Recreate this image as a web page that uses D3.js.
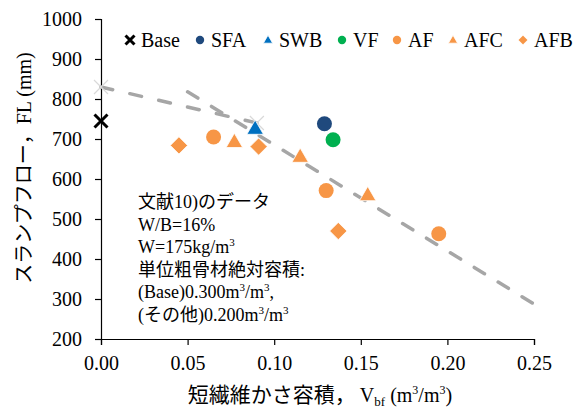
<!DOCTYPE html>
<html>
<head>
<meta charset="utf-8">
<script src="https://cdn.jsdelivr.net/npm/d3@7"></script>
<style>
  body { margin: 0; background: #fff; }
  svg text { font-family: 'Liberation Serif', 'Noto Sans CJK JP', serif !important; fill: #000; }
</style>
</head>
<body>
<svg id="chart" width="575" height="410"></svg>
<script>
// Slump flow vs. bulk volume of short fibres
const xTicks = [0, 0.05, 0.10, 0.15, 0.20, 0.25];
const yTicks = [200, 300, 400, 500, 600, 700, 800, 900, 1000];

const seriesNames = ["Base", "SFA", "SWB", "VF", "AF", "AFC", "AFB"];
const seriesColors = ["#000000", "#1F497D", "#0070C0", "#00B050", "#F79646", "#F79646", "#F79646"];
const seriesShapes = ["cross", "circle", "triangle", "circle", "circle", "triangle", "diamond"];

const baseX = [0.000];
const baseY = [745];
const sfaX = [0.129];
const sfaY = [738];
const swbX = [0.089];
const swbY = [726];
const vfX = [0.134];
const vfY = [698];
const afX = [0.065, 0.130, 0.195];
const afY = [705, 571, 463];
const afcX = [0.077, 0.115, 0.154];
const afcY = [693, 656, 560];
const afbX = [0.045, 0.091, 0.137];
const afbY = [684, 681, 470];

// trend lines
const trendAX = [0.000, 0.090];
const trendAY = [830, 740];
const trendBX = [0.050, 0.249];
const trendBY = [818, 290];

const seriesX = [baseX, sfaX, swbX, vfX, afX, afcX, afbX];
const seriesY = [baseY, sfaY, swbY, vfY, afY, afcY, afbY];

const FONT = "'Liberation Serif', 'Noto Sans CJK JP', serif";
const svg = d3.select("#chart");
const x = d3.scaleLinear().domain([0, 0.25]).range([101, 534]);
const y = d3.scaleLinear().domain([200, 1000]).range([339, 19]);

// axes
const xAxis = svg.append("g").attr("transform", "translate(0,339)")
  .call(d3.axisBottom(x).tickValues(xTicks).tickSize(6).tickPadding(6).tickFormat(d3.format(".2f")));
const yAxis = svg.append("g").attr("transform", "translate(101,0)")
  .call(d3.axisLeft(y).tickValues(yTicks).tickSize(6).tickPadding(13).tickFormat(d3.format("d")));
[xAxis, yAxis].forEach(a => {
  a.attr("font-family", null);
  a.selectAll("path").attr("stroke", "#000").attr("stroke-width", 1.2);
  a.selectAll("line").attr("stroke", "#000").attr("stroke-width", 1.2);
  a.selectAll("text").attr("font-size", 20).style("font-family", FONT).attr("fill", "#000");
});
xAxis.selectAll("text").attr("dy", "0.95em");

// dashed trend lines; the gap is stretched slightly so both ends fall on a dash
const DASH = 12, PERIOD = 29;
const line = d3.line().x(d => x(d[0])).y(d => y(d[1]));
[[trendAX, trendAY], [trendBX, trendBY]].forEach(([xs, ys]) => {
  const p = svg.append("path")
    .datum(xs.map((v, i) => [v, ys[i]]))
    .attr("d", line)
    .attr("fill", "none")
    .attr("stroke", "#A6A6A6")
    .attr("stroke-width", 3.5)
    .attr("stroke-linecap", "round");
  const L = p.node().getTotalLength();
  const n = Math.max(1, Math.round((L - DASH) / PERIOD));
  const gap = (L - DASH) / n - DASH;
  p.attr("stroke-dasharray", `${DASH},${gap}`);
});
// light end markers on trend line A
svg.selectAll(".endmark").data(trendAX.map((v, i) => [v, trendAY[i]])).enter()
  .append("path")
  .attr("transform", d => `translate(${x(d[0])},${y(d[1])})`)
  .attr("d", "M-7,-7L7,7M-7,7L7,-7")
  .attr("stroke", "#D9D9D9").attr("stroke-width", 1.2).attr("fill", "none");

// marker drawing
function marker(g, shape, color, s) {
  if (shape === "cross") {
    g.append("path").attr("d", `M${-s},${-s}L${s},${s}M${-s},${s}L${s},${-s}`)
      .attr("stroke", color).attr("stroke-width", 3).attr("fill", "none");
  } else if (shape === "circle") {
    g.append("circle").attr("r", s).attr("fill", color);
  } else if (shape === "triangle") {
    const h = s * 1.9;
    g.append("path").attr("d", `M0,${-h * 0.6}L${s * 1.1},${h * 0.4}L${-s * 1.1},${h * 0.4}Z`)
      .attr("fill", color).attr("stroke", "#fff").attr("stroke-width", 0.8);
  } else if (shape === "diamond") {
    const d = s * 1.15;
    g.append("path").attr("d", `M0,${-d}L${d},0L0,${d}L${-d},0Z`).attr("fill", color)
      .attr("stroke", "#fff").attr("stroke-width", 0.8);
  }
}

// points
seriesNames.forEach((name, i) => {
  seriesX[i].forEach((xv, j) => {
    const g = svg.append("g").attr("transform", `translate(${x(xv)},${y(seriesY[i][j])})`);
    marker(g, seriesShapes[i], seriesColors[i], seriesShapes[i] === "cross" ? 6.5 : 7.5);
  });
});

// legend
const legendX = [130, 200, 268, 342, 397, 453, 523];
seriesNames.forEach((name, i) => {
  const g = svg.append("g").attr("transform", `translate(${legendX[i]},40)`);
  marker(g, seriesShapes[i], seriesColors[i], seriesShapes[i] === "cross" ? 4.5 : 4.2);
  svg.append("text").attr("x", legendX[i] + 11).attr("y", 47)
    .attr("font-size", 20).style("font-family", FONT).text(name);
});

// notes
const notes = [
  ["文献10)のデータ"],
  ["W/B=16%"],
  ["W=175kg/m", "3"],
  ["単位粗骨材絶対容積:"],
  ["(Base)0.300m", "3", "/m", "3", ","],
  ["(その他)0.200m", "3", "/m", "3"]
];
notes.forEach((parts, i) => {
  const t = svg.append("text").attr("x", 138).attr("y", 208 + i * 22.5)
    .attr("font-size", 18).style("font-family", FONT);
  parts.forEach((p, k) => {
    const ts = t.append("tspan").text(p);
    if (k % 2 === 1) ts.attr("font-size", 11).attr("dy", -7);
    else if (k > 0) ts.attr("dy", 7);
  });
});

// axis titles
const xt = svg.append("text").attr("x", 320).attr("y", 402).attr("text-anchor", "middle")
  .attr("font-size", 20).style("font-family", FONT);
xt.append("tspan").attr("font-size", 21).text("短繊維かさ容積，");
xt.append("tspan").attr("dx", 4).text("V");
xt.append("tspan").attr("font-size", 13).attr("dy", 4).text("bf");
xt.append("tspan").attr("dy", -4).text(" (m");
xt.append("tspan").attr("font-size", 12).attr("dy", -8).text("3");
xt.append("tspan").attr("dy", 8).text("/m");
xt.append("tspan").attr("font-size", 12).attr("dy", -8).text("3");
xt.append("tspan").attr("dy", 8).text(")");

svg.append("text").attr("transform", "translate(31,168) rotate(-90)")
  .attr("text-anchor", "middle").attr("font-size", 20).style("font-family", FONT)
  .text("スランプフロー，FL (mm)");
</script>
</body>
</html>
